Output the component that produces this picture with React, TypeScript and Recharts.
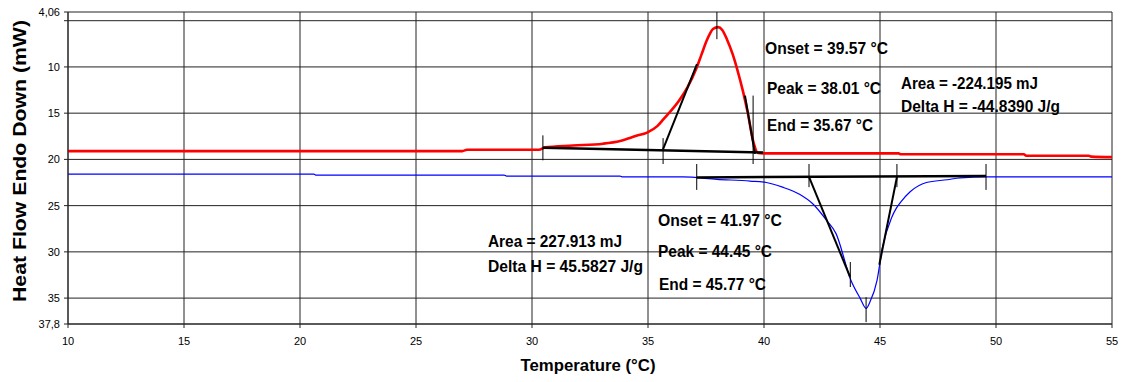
import React from 'react';
import { LineChart, Line, XAxis, YAxis, CartesianGrid, ReferenceLine } from 'recharts';

const xTicks = [10, 15, 20, 25, 30, 35, 40, 45, 50, 55];
const yTicks = [4.06, 5, 10, 15, 20, 25, 30, 35, 37.8];

// red trace (cooling, exotherm points up because endo is down)
const coolingT = [10, 27, 27.2, 30.3, 30.56, 31.77, 33.06, 33.8, 34.5, 34.96, 35.4, 35.65, 36.38, 36.7, 37.11, 37.3, 37.54, 37.67, 37.8, 38.02, 38.2, 38.4, 38.66, 38.84, 39.1, 39.31, 39.53, 39.74, 39.96, 45.8, 45.9, 51.2, 51.3, 54, 54.1, 55];
const coolingHF = [19.1, 19.1, 18.95, 18.95, 18.7, 18.5, 18.3, 18.0, 17.45, 17.1, 16.4, 15.7, 13.5, 12.2, 10.0, 8.7, 7.1, 6.4, 5.9, 5.7, 6.0, 7.0, 8.7, 10.2, 12.7, 15.1, 18.0, 19.3, 19.35, 19.35, 19.45, 19.45, 19.6, 19.6, 19.7, 19.75];

// blue trace (heating, melting endotherm)
const heatingT = [10, 20.6, 20.7, 28.8, 28.9, 33.8, 33.9, 36.5, 37.97, 39.4, 40.1, 40.8, 41.55, 42.1, 42.7, 43.1, 43.75, 44.14, 44.4, 44.57, 44.87, 45.1, 45.5, 45.7, 45.9, 46.3, 47.0, 47.9, 48.45, 49.6, 55];
const heatingHF = [21.6, 21.6, 21.7, 21.7, 21.8, 21.8, 21.9, 21.9, 22.15, 22.35, 22.5, 23.0, 23.8, 24.8, 26.6, 28.0, 33.1, 35.0, 36.1, 35.4, 33.1, 29.6, 26.3, 25.3, 24.6, 23.5, 22.5, 22.2, 22.0, 21.9, 21.9];

// analysis construction lines [x1, y1, x2, y2, width]
const coolingMarks = [
  [30.47, 18.75, 39.96, 19.25, 2.5],
  [35.65, 18.9, 37.11, 9.7, 2],
  [39.18, 13.1, 39.61, 19.4, 2],
  [30.47, 17.4, 30.47, 20.1, 1],
  [35.65, 17.7, 35.65, 20.5, 1],
  [39.53, 13.1, 39.53, 20.5, 1],
  [37.97, 4.06, 37.97, 7.0, 1],
];
const heatingMarks = [
  [37.1, 21.95, 49.57, 21.8, 2.5],
  [41.94, 21.9, 43.71, 32.7, 2],
  [44.97, 31.4, 45.73, 21.9, 2],
  [37.1, 20.5, 37.1, 23.3, 1],
  [49.57, 20.5, 49.57, 23.3, 1],
  [41.94, 20.5, 41.94, 23.0, 1],
  [45.73, 20.5, 45.73, 23.0, 1],
  [44.4, 34.9, 44.4, 37.6, 1],
  [43.72, 31.1, 43.72, 33.8, 1],
];

// result texts: [text, left, baseline, width]
const notes: [string, number, number, number][] = [
  ['Onset = 39.57 °C', 765, 53.5, 123],
  ['Peak = 38.01 °C', 767, 93.5, 114],
  ['End = 35.67 °C', 767, 130.5, 106],
  ['Area = -224.195 mJ', 901, 88.5, 137],
  ['Delta H = -44.8390 J/g', 901, 111.5, 159],
  ['Onset = 41.97 °C', 658, 225.5, 124],
  ['Peak = 44.45 °C', 658, 256.5, 114],
  ['End = 45.77 °C', 659, 289.5, 107],
  ['Area = 227.913 mJ', 488, 247, 134],
  ['Delta H = 45.5827 J/g', 488, 271.5, 155],
];

const coolingData = coolingT.map((t, i) => ({ t, hf: coolingHF[i] }));
const heatingData = heatingT.map((t, i) => ({ t, hf: heatingHF[i] }));

const font = '"Liberation Sans", Arial, sans-serif';

const YTick = (props: any) => {
  const { x, y, payload } = props;
  if (payload.value === 5) return null;
  return (
    <text x={x} y={y} dy={4} textAnchor="end" fontSize={11} fill="#000" fontFamily={font}>
      {String(payload.value).replace('.', ',')}
    </text>
  );
};

const marks = (list: number[][], key: string) =>
  list.map((m, i) => (
    <ReferenceLine
      key={key + i}
      segment={[{ x: m[0], y: m[1] }, { x: m[2], y: m[3] }]}
      stroke="#000"
      strokeWidth={m[4]}
      ifOverflow="visible"
    />
  ));

export default function App() {
  return (
    <div style={{ position: 'absolute', left: 0, top: 0, width: 1121, height: 382, background: '#fff', fontFamily: font }}>
      <LineChart width={1121} height={382} margin={{ top: 12, right: 9, bottom: 0, left: 0 }}>
        <CartesianGrid stroke="#222" strokeWidth={1} />
        <XAxis
          type="number"
          dataKey="t"
          domain={[10, 55]}
          ticks={xTicks}
          interval={0}
          allowDataOverflow
          height={58}
          tickSize={4}
          tickMargin={9}
          stroke="#222"
          tick={{ fontSize: 11, fill: '#000', fontFamily: font }}
        />
        <YAxis
          type="number"
          dataKey="hf"
          domain={[4.06, 37.8]}
          reversed
          ticks={yTicks}
          interval={0}
          allowDataOverflow
          width={68}
          tickSize={4}
          tickMargin={4}
          stroke="#222"
          tick={<YTick />}
        />
        <Line data={heatingData} dataKey="hf" type="monotone" stroke="#0000ff" strokeWidth={1.2} dot={false} isAnimationActive={false} />
        <Line data={coolingData} dataKey="hf" type="monotone" stroke="#ff0000" strokeWidth={2.6} dot={false} isAnimationActive={false} />
        {marks(coolingMarks, 'c')}
        {marks(heatingMarks, 'h')}
      </LineChart>
      <svg width={1121} height={382} style={{ position: 'absolute', left: 0, top: 0, pointerEvents: 'none' }}>
        {notes.map(([s, x, y, w]) => (
          <text key={s} x={x} y={y} fontSize={17} fontWeight="bold" fill="#000" fontFamily={font} textLength={w} lengthAdjust="spacingAndGlyphs">
            {s}
          </text>
        ))}
        <text x={588} y={371} textAnchor="middle" fontSize={17} fontWeight="bold" fill="#000" fontFamily={font} textLength={135} lengthAdjust="spacingAndGlyphs">
          Temperature (°C)
        </text>
        <text
          x={0}
          y={0}
          transform="translate(26,161) rotate(-90)"
          textAnchor="middle"
          fontSize={18}
          fontWeight="bold"
          fill="#000"
          fontFamily={font}
          textLength={282}
          lengthAdjust="spacingAndGlyphs"
        >
          Heat Flow Endo Down (mW)
        </text>
      </svg>
    </div>
  );
}
